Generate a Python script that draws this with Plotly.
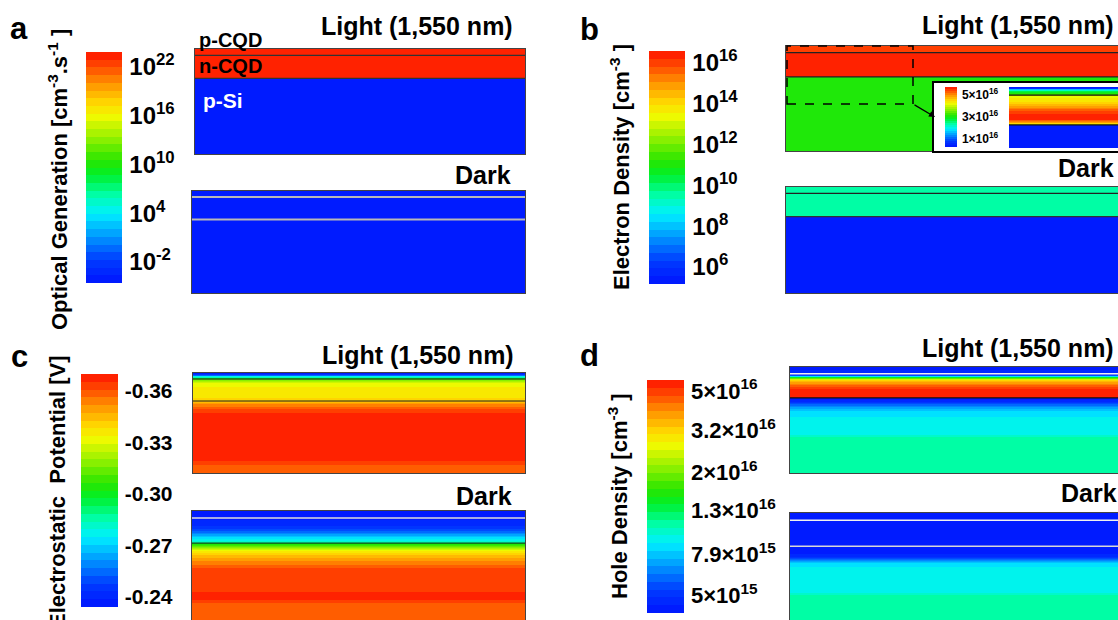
import numpy as np
import plotly.graph_objects as go

W, H = 1118, 620
FONT = "Arial, Liberation Sans, Helvetica, sans-serif"

# ====================== DATA ======================
layer_names = ["p-CQD", "n-CQD", "p-Si"]
layer_edges = [0.0, 0.06, 0.28, 1.0]          # normalised depth of layer boundaries

# (a) optical generation [cm^-3 s^-1], per layer
a_light_G = [3e23, 3e23, 1e-5]
a_dark_G = [1e-5, 1e-5, 1e-5]
a_tick_vals = [1e-2, 1e4, 1e10, 1e16, 1e22]
a_tick_text = ["10<sup>-2</sup>", "10<sup>4</sup>", "10<sup>10</sup>", "10<sup>16</sup>", "10<sup>22</sup>"]

# (b) electron density [cm^-3], per layer
b_light_n = [1.1e16, 3e16, 1.6e11]
b_dark_n = [5e9, 5e9, 2e5]
b_tick_vals = [1e6, 1e8, 1e10, 1e12, 1e14, 1e16]
b_tick_text = ["10<sup>6</sup>", "10<sup>8</sup>", "10<sup>10</sup>", "10<sup>12</sup>", "10<sup>14</sup>", "10<sup>16</sup>"]

# (b, inset) electron density near the CQD layers, linear scale [cm^-3]
inset_depth = [0.0, 0.008, 0.018, 0.03, 0.045, 0.0599, 0.0601, 0.08, 0.11, 0.14, 0.17,
               0.2, 0.235, 0.25, 0.262, 0.272, 0.2799, 0.2801, 0.45]
inset_n = [0.4e16, 0.6e16, 1.7e16, 2.7e16, 3.1e16, 3.3e16, 4.1e16, 4.3e16, 4.5e16, 4.9e16, 5.3e16,
           5.6e16, 5.6e16, 5.1e16, 4.6e16, 4.2e16, 4.0e16, 0.3e16, 0.3e16]
inset_tick_vals = [1e16, 3e16, 5e16]
inset_tick_text = ["1×10<sup>16</sup>", "3×10<sup>16</sup>", "5×10<sup>16</sup>"]

# (c) electrostatic potential [V] versus depth
c_light_depth = [0.0, 0.015, 0.03, 0.045, 0.0599, 0.0601, 0.08, 0.11, 0.22, 0.2799,
                 0.2801, 0.31, 0.35, 0.40, 0.87, 0.92, 1.0]
c_light_V = [-0.238, -0.255, -0.275, -0.300, -0.310, -0.312, -0.322, -0.333, -0.337, -0.340,
             -0.345, -0.352, -0.360, -0.366, -0.366, -0.360, -0.360]
c_dark_depth = [0.0, 0.0599, 0.0601, 0.10, 0.14, 0.18, 0.22, 0.25, 0.2799,
                0.2801, 0.31, 0.35, 0.39, 0.45, 0.51, 0.77, 0.80, 0.95]
c_dark_V = [-0.235, -0.237, -0.238, -0.240, -0.245, -0.255, -0.268, -0.278, -0.285,
            -0.300, -0.320, -0.336, -0.346, -0.355, -0.364, -0.366, -0.360, -0.359]
c_tick_vals = [-0.24, -0.27, -0.30, -0.33, -0.36]
c_tick_text = ["-0.24", "-0.27", "-0.30", "-0.33", "-0.36"]

# (d) hole density [cm^-3] versus depth
d_light_depth = [0.0, 0.0599, 0.0601, 0.068, 0.078, 0.09, 0.105, 0.12, 0.15, 0.18, 0.22, 0.2799,
                 0.2801, 0.30, 0.32, 0.36, 0.41, 0.60, 0.63, 0.96]
d_light_p = [4.4e15, 4.6e15, 4.5e15, 5.6e15, 8.9e15, 1.4e16, 2.5e16, 3.3e16, 4.2e16, 5.0e16, 5.4e16, 5.4e16,
             4.3e15, 4.5e15, 5.2e15, 7.2e15, 8.9e15, 9.3e15, 1.1e16, 1.12e16]
d_dark_depth = [0.0, 0.0599, 0.0601, 0.2799, 0.2801, 0.35, 0.38, 0.42, 0.45, 0.66, 0.69, 0.9]
d_dark_p = [4.4e15, 4.4e15, 4.3e15, 4.3e15, 4.3e15, 4.5e15, 5.6e15, 8.3e15, 9.1e15, 9.3e15, 1.1e16, 1.12e16]
d_tick_vals = [5e15, 7.9e15, 1.3e16, 2e16, 3.2e16, 5e16]
d_tick_text = ["5×10<sup>15</sup>", "7.9×10<sup>15</sup>", "1.3×10<sup>16</sup>",
               "2×10<sup>16</sup>", "3.2×10<sup>16</sup>", "5×10<sup>16</sup>"]

# ====================== STYLE ======================
anchors = [
    (0.00, (0, 20, 255)), (0.10, (0, 60, 255)), (0.20, (0, 150, 255)), (0.30, (0, 240, 255)),
    (0.38, (0, 255, 170)), (0.47, (0, 240, 40)), (0.53, (40, 230, 0)), (0.62, (140, 240, 0)),
    (0.72, (240, 250, 0)), (0.78, (255, 215, 0)), (0.86, (255, 150, 0)), (0.93, (255, 80, 0)),
    (1.00, (255, 20, 0)),
]


def interp_color(t):
    for (p0, c0), (p1, c1) in zip(anchors[:-1], anchors[1:]):
        if p0 <= t <= p1:
            f = (t - p0) / (p1 - p0)
            return tuple(int(round(a + (b - a) * f)) for a, b in zip(c0, c1))
    return anchors[-1][1]


def stepped_scale(n):
    cs = []
    for i in range(n):
        c = "rgb(%d,%d,%d)" % interp_color((i + 0.5) / n)
        cs.append([i / n, c])
        cs.append([(i + 1) / n, c])
    return cs


SCALE = stepped_scale(30)


def px(x):
    return x / W


def py(y):
    return 1 - y / H


fig = go.Figure()
layout_axes = {}
shapes = []
annotations = []


def add_axes(idx, x0, x1, y0, y1, yrange, right=True, bottom=True, linecolor="#444"):
    sx = "" if idx == 1 else str(idx)
    xa = dict(domain=[px(x0), px(x1)], range=[0, 1], anchor="y" + sx, showgrid=False, zeroline=False,
              showticklabels=False, ticks="", showline=True, linecolor=linecolor, linewidth=1,
              mirror=bottom, side="bottom" if bottom else "top", fixedrange=True)
    ya = dict(domain=[py(y1), py(y0)], range=yrange, anchor="x" + sx, showgrid=False, zeroline=False,
              showticklabels=False, ticks="", showline=True, linecolor=linecolor, linewidth=1,
              mirror=right, fixedrange=True)
    layout_axes["xaxis" + sx] = xa
    layout_axes["yaxis" + sx] = ya
    return "x" + sx, "y" + sx


def layer_heatmap(vals, xy, ca):
    z = [[float(np.log10(v))] for v in vals]
    fig.add_trace(go.Heatmap(x=[0, 1], y=layer_edges, z=z, xaxis=xy[0], yaxis=xy[1],
                             coloraxis=ca, hoverinfo="skip"))


def profile_heatmap(depth, vals, xy, ca):
    z = [[v, v] for v in vals]
    fig.add_trace(go.Heatmap(x=[0, 1], y=depth, z=z, zsmooth="best", xaxis=xy[0], yaxis=xy[1],
                             coloraxis=ca, hoverinfo="skip"))


def iface(xy, depth, color, width=1.2):
    shapes.append(dict(type="line", xref=xy[0], yref=xy[1], x0=0, x1=1, y0=depth, y1=depth,
                       line=dict(color=color, width=width), layer="above"))


def colorbar(x0, x1, y0, y1, tvals, ttext, size):
    return dict(x=px(x0), xanchor="left", xpad=0, y=py((y0 + y1) / 2), yanchor="middle", ypad=0,
                len=y1 - y0, lenmode="pixels", thickness=x1 - x0, thicknessmode="pixels",
                outlinewidth=0, tickvals=tvals, ticktext=ttext, ticks="outside", ticklen=3,
                tickcolor="rgba(0,0,0,0)",
                tickfont=dict(family=FONT, size=size, color="black", weight="bold"))


def text(x, y, s, size, xanchor="left", color="black", angle=0):
    annotations.append(dict(x=px(x), y=py(y), xref="paper", yref="paper", text=s, showarrow=False,
                            xanchor=xanchor, yanchor="middle", textangle=angle,
                            font=dict(family=FONT, size=size, color=color, weight="bold")))


# ---------------- panel a ----------------
ax_al = add_axes(1, 195, 525, 49, 154, [1.0, 0])
ax_ad = add_axes(2, 192, 525, 191, 293, [1.0, 0])
layer_heatmap(a_light_G, ax_al, "coloraxis")
layer_heatmap(a_dark_G, ax_ad, "coloraxis")
iface(ax_al, layer_edges[1], "#333")
iface(ax_al, layer_edges[2], "#333")
iface(ax_ad, layer_edges[1], "#b8b8b8", 2)
iface(ax_ad, layer_edges[2], "#b8b8b8", 2)

# ---------------- panel b ----------------
ax_bl = add_axes(3, 786, W, 46, 151, [0.95, 0], right=False)
ax_bd = add_axes(4, 786, W, 187, 293, [1.0, 0], right=False)
layer_heatmap(b_light_n, ax_bl, "coloraxis2")
layer_heatmap(b_dark_n, ax_bd, "coloraxis2")
iface(ax_bl, layer_edges[1], "#222")
iface(ax_bl, layer_edges[2], "#222")
iface(ax_bd, layer_edges[1], "#222")
iface(ax_bd, layer_edges[2], "#333")

# ---------------- panel c ----------------
ax_cl = add_axes(5, 193, 525, 373, 473, [1.0, 0])
ax_cd = add_axes(6, 192, 525, 511, 620, [0.95, 0], bottom=False)
profile_heatmap(c_light_depth, [-v for v in c_light_V], ax_cl, "coloraxis3")
profile_heatmap(c_dark_depth, [-v for v in c_dark_V], ax_cd, "coloraxis3")
iface(ax_cl, layer_edges[1], "#222")
iface(ax_cl, layer_edges[2], "#222")
iface(ax_cd, layer_edges[1], "#dddddd", 1.5)
iface(ax_cd, layer_edges[2], "#1a4a1a")

# ---------------- panel d ----------------
ax_dl = add_axes(7, 790, W, 367, 473, [0.96, 0], right=False)
ax_dd = add_axes(8, 790, W, 513, 620, [0.9, 0], right=False, bottom=False)
profile_heatmap(d_light_depth, list(np.log10(d_light_p)), ax_dl, "coloraxis4")
profile_heatmap(d_dark_depth, list(np.log10(d_dark_p)), ax_dd, "coloraxis4")
iface(ax_dl, layer_edges[1], "#f0f0f0", 1.5)
iface(ax_dl, layer_edges[2], "#111")
iface(ax_dd, layer_edges[1], "#f0f0f0", 1.5)
iface(ax_dd, layer_edges[2], "#d8d8d8", 1.5)

# ---------------- inset of b ----------------
ax_box = add_axes(9, 934, W, 83, 151, [0, 1], right=False, linecolor="black")
layout_axes["xaxis9"]["linewidth"] = 1.5
layout_axes["yaxis9"]["linewidth"] = 1.5
fig.add_trace(go.Scatter(x=[], y=[], xaxis=ax_box[0], yaxis=ax_box[1], showlegend=False))
ax_in = add_axes(10, 1009, W, 87, 148, [0.45, 0], right=False, linecolor="rgba(0,0,0,0)")
profile_heatmap(inset_depth, inset_n, ax_in, "coloraxis5")
iface(ax_in, layer_edges[1], "#111", 1.2)
iface(ax_in, layer_edges[2], "#111", 1.2)

# dashed zoom box and arrow
shapes.append(dict(type="rect", xref="paper", yref="paper", x0=px(787), x1=px(913), y0=py(104), y1=py(46),
                   line=dict(color="black", width=1.5, dash="dash"), layer="above"))
annotations.append(dict(x=px(935), y=py(117), xref="paper", yref="paper", ax=-22, ay=-13,
                        axref="pixel", ayref="pixel", showarrow=True, arrowhead=2, arrowsize=1,
                        arrowwidth=1.2, arrowcolor="black", text="", standoff=0))

# ---------------- texts ----------------
text(19, 28, "a", 31, "center")
text(589, 30, "b", 31, "center")
text(19, 356, "c", 31, "center")
text(589, 355, "d", 31, "center")

text(515, 26, "Light (1,550 nm)", 25, "right")
text(513, 175, "Dark", 25, "right")
text(1116, 25, "Light (1,550 nm)", 25, "right")
text(1116, 168, "Dark", 25, "right")
text(516, 355, "Light (1,550 nm)", 25, "right")
text(514, 496, "Dark", 25, "right")
text(1116, 348, "Light (1,550 nm)", 25, "right")
text(1119, 493, "Dark", 25, "right")

text(197, 40, layer_names[0], 20)
text(197, 66, layer_names[1], 20)
text(201, 101, layer_names[2], 21, color="white")

text(58, 180, "Optical Generation [cm<sup>-3</sup>.s<sup>-1</sup> ]", 22, "center", angle=-90)
text(620, 167, "Electron Density [cm<sup>-3</sup> ]", 22, "center", angle=-90)
text(57, 492, "Electrostatic  Potential [V]", 22, "center", angle=-90)
text(618, 496, "Hole Density [cm<sup>-3</sup> ]", 22, "center", angle=-90)

# ---------------- colour axes ----------------
coloraxes = dict(
    coloraxis=dict(colorscale=SCALE, cmin=-4.58, cmax=23.85,
                   colorbar=colorbar(86, 122, 52, 283, list(np.log10(a_tick_vals)), a_tick_text, 24)),
    coloraxis2=dict(colorscale=SCALE, cmin=5.17, cmax=16.59,
                    colorbar=colorbar(649, 685, 51, 284, list(np.log10(b_tick_vals)), b_tick_text, 24)),
    coloraxis3=dict(colorscale=SCALE, cmin=0.2341, cmax=0.370,
                    colorbar=colorbar(81, 118, 374, 607, [-v for v in c_tick_vals], c_tick_text, 21)),
    coloraxis4=dict(colorscale=SCALE, cmin=15.611, cmax=16.753,
                    colorbar=colorbar(647, 684, 380, 613, list(np.log10(d_tick_vals)), d_tick_text, 22)),
    coloraxis5=dict(colorscale=SCALE, cmin=0.27e16, cmax=5.73e16,
                    colorbar=colorbar(945, 957, 87, 147, inset_tick_vals, inset_tick_text, 12)),
)

fig.update_layout(
    width=W, height=H, margin=dict(l=0, r=0, t=0, b=0, pad=0),
    paper_bgcolor="white", plot_bgcolor="white", showlegend=False,
    font=dict(family=FONT, color="black"),
    shapes=shapes, annotations=annotations,
    **layout_axes, **coloraxes,
)

fig.write_html("out.html")
